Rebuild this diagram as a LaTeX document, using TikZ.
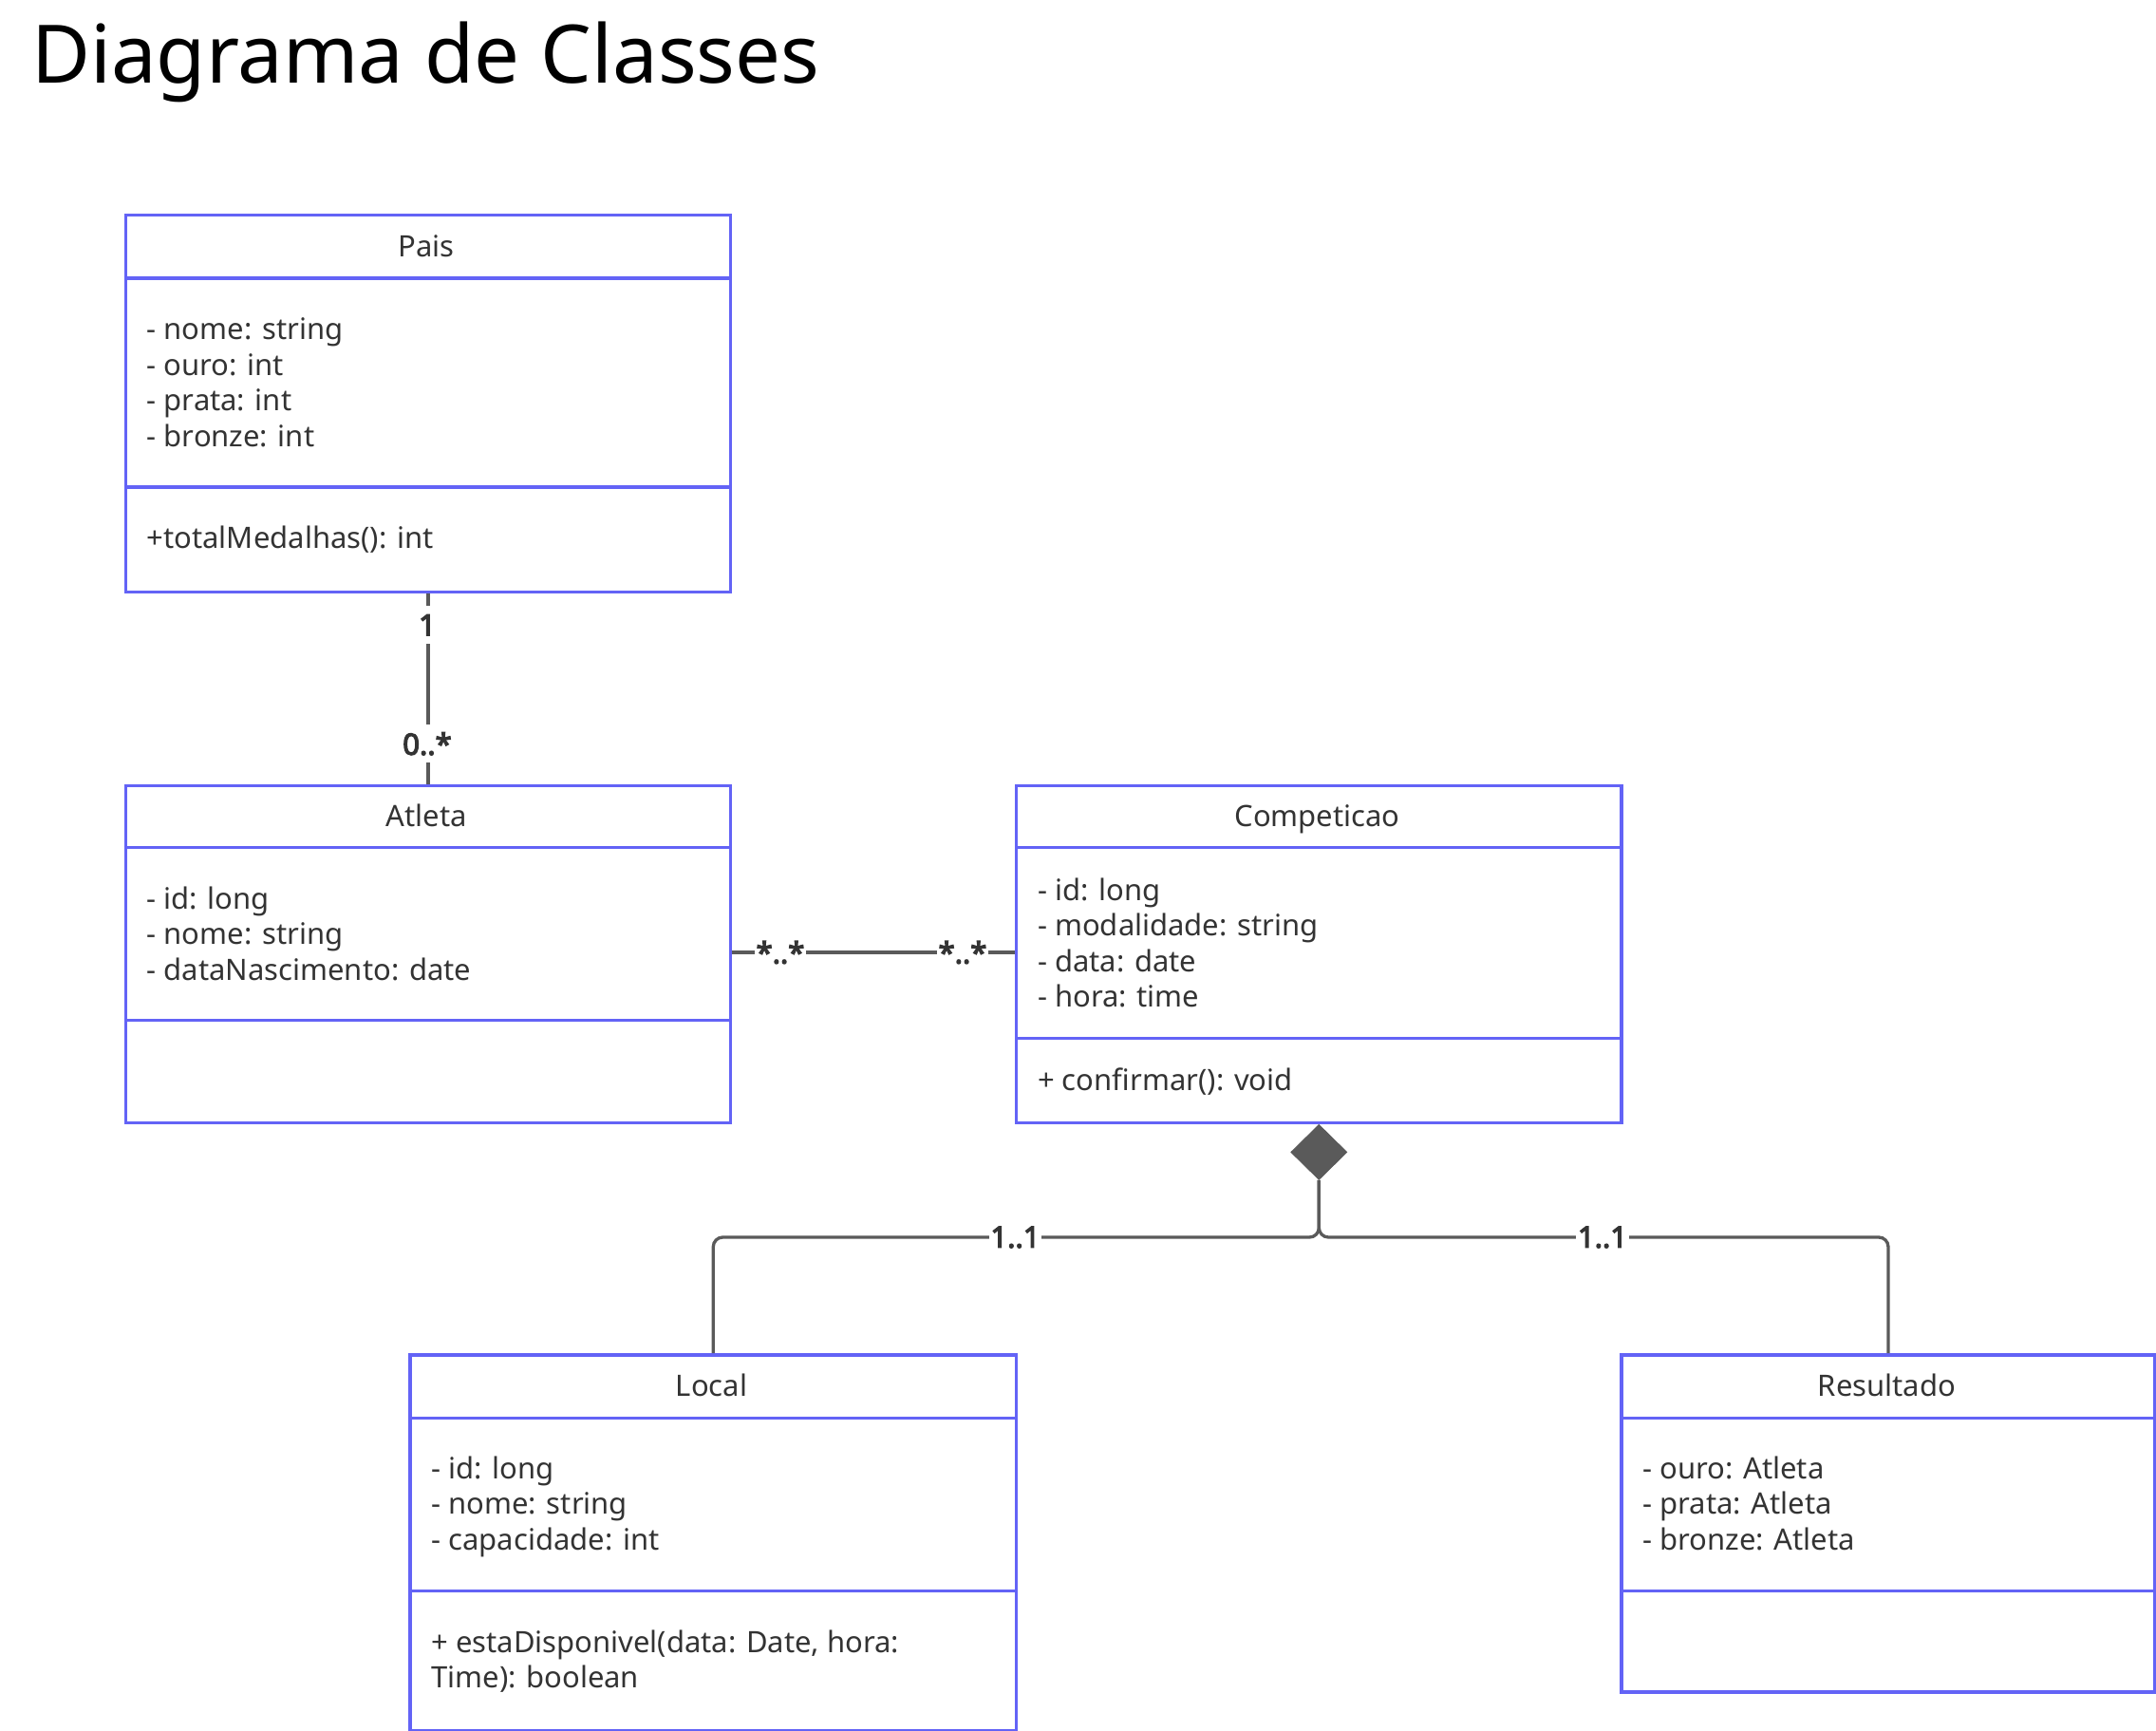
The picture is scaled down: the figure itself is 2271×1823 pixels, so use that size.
\documentclass[tikz,border=0pt]{standalone}
\usepackage{fontspec}
\setmainfont{Noto Sans}
\newfontfamily\multfont{Noto Sans}[FakeBold=4]
\usetikzlibrary{shapes.geometric}
\definecolor{clsborder}{RGB}{99,99,246}
\definecolor{conncol}{RGB}{90,90,90}
\definecolor{txtcol}{RGB}{51,51,51}
\tikzset{
 cls/.style={draw=clsborder, line width=3.3pt, fill=white, inner sep=0pt},
 sepline/.style={draw=clsborder, line width=3.3pt},
 ctitle/.style={anchor=base, text=txtcol, font=\fontsize{31}{37}\selectfont, inner sep=0pt},
 attr/.style={anchor=base west, text=txtcol, font=\fontsize{31}{37}\selectfont, inner sep=0pt},
 conn/.style={draw=conncol, line width=3.3pt},
 mult/.style={text=txtcol, font=\multfont\fontsize{31}{37}\selectfont, fill=white, inner xsep=1.5pt, inner ysep=0pt, minimum height=40pt},
}
\begin{document}
\begin{tikzpicture}[x=1pt,y=-1pt]
\path[use as bounding box, fill=white] (0,0) rectangle (2271,1823);
\node[anchor=base west, font=\fontsize{85}{100}\selectfont, inner sep=0pt] (title) at (33,87) {Diagrama de Classes};

% Pais
\node[cls, minimum width=637.5pt, minimum height=397pt, anchor=north west] (pais) at (130.5,224.5) {};
\draw[sepline] (130.5,293) -- (768,293);
\draw[sepline] (130.5,513) -- (768,513);
\node[ctitle] (paisT) at (449.25,270.5) {Pais};
\node[attr] (paisA1) at (154.5,357.3) {- nome: string};
\node[attr] (paisA2) at (154.5,395) {- ouro: int};
\node[attr] (paisA3) at (154.5,432.6) {- prata: int};
\node[attr] (paisA4) at (154.5,470.3) {- bronze: int};
\node[attr] (paisM1) at (154.5,577) {+totalMedalhas(): int};

% Atleta
\node[cls, minimum width=637.5pt, minimum height=355pt, anchor=north west] (atleta) at (130.5,825.6) {};
\draw[sepline] (130.5,892.2) -- (768,892.2);
\draw[sepline] (130.5,1074.7) -- (768,1074.7);
\node[ctitle] (atletaT) at (449.25,870) {Atleta};
\node[attr] (atletaA1) at (154.5,957) {- id: long};
\node[attr] (atletaA2) at (154.5,994.6) {- nome: string};
\node[attr] (atletaA3) at (154.5,1032.3) {- dataNascimento: date};

% Competicao
\node[cls, minimum width=637.3pt, minimum height=355pt, anchor=north west] (comp) at (1069,825.6) {};
\draw[sepline] (1069,892.2) -- (1706.3,892.2);
\draw[sepline] (1069,1093.5) -- (1706.3,1093.5);
\node[ctitle] (compT) at (1387.6,870) {Competicao};
\node[attr] (compA1) at (1093,948.3) {- id: long};
\node[attr] (compA2) at (1093,985.7) {- modalidade: string};
\node[attr] (compA3) at (1093,1023.3) {- data: date};
\node[attr] (compA4) at (1093,1060.7) {- hora: time};
\node[attr] (compM1) at (1093,1148.3) {+ confirmar(): void};

% Local
\node[cls, minimum width=638.7pt, minimum height=395.5pt, anchor=north west] (localb) at (430.3,1425.2) {};
\draw[sepline] (430.3,1493.3) -- (1069,1493.3);
\draw[sepline] (430.3,1675.8) -- (1069,1675.8);
\node[ctitle] (localT) at (749.6,1470.5) {Local};
\node[attr] (localA1) at (454.3,1557) {- id: long};
\node[attr] (localA2) at (454.3,1594.6) {- nome: string};
\node[attr] (localA3) at (454.3,1632.2) {- capacidade: int};
\node[attr] (localM1) at (454.3,1740.3) {+ estaDisponivel(data: Date, hora:};
\node[attr] (localM2) at (454.3,1777.9) {Time): boolean};

% Resultado
\node[cls, minimum width=562pt, minimum height=355pt, anchor=north west] (result) at (1706.3,1425.2) {};
\draw[sepline] (1706.3,1493.3) -- (2268.3,1493.3);
\draw[sepline] (1706.3,1675.8) -- (2268.3,1675.8);
\node[ctitle] (resultT) at (1987.3,1470.5) {Resultado};
\node[attr] (resultA1) at (1730.3,1557) {- ouro: Atleta};
\node[attr] (resultA2) at (1730.3,1594.6) {- prata: Atleta};
\node[attr] (resultA3) at (1730.3,1632.2) {- bronze: Atleta};

% Pais -- Atleta
\draw[conn] (pais.south) -- (atleta.north);
\node[mult] (m1) at (450,658.3) {1};
\node[mult] (m2) at (450,783.3) {0..*};

% Atleta -- Competicao
\coordinate (ac1) at (atleta.east |- 0,1003);
\coordinate (ac2) at (comp.west |- 0,1003);
\draw[conn] (ac1) -- (ac2);
\node[mult] (m3) at (822,1003) {*..*};
\node[mult] (m4) at (1014,1003) {*..*};

% Composition
\node[diamond, fill=conncol, draw=conncol, line width=1pt, minimum width=59pt, minimum height=58pt, inner sep=0pt, anchor=north] (dia) at (comp.south) {};
\coordinate (junc) at (1387.6,1303);
\draw[conn, rounded corners=10pt] (dia.south) |- (junc -| localb.north) -- (localb.north);
\draw[conn, rounded corners=10pt] (dia.south) |- (junc -| result.north) -- (result.north);
\node[mult] (m5) at (1069.5,1303) {1..1};
\node[mult] (m6) at (1688,1303) {1..1};
\end{tikzpicture}
\end{document}
